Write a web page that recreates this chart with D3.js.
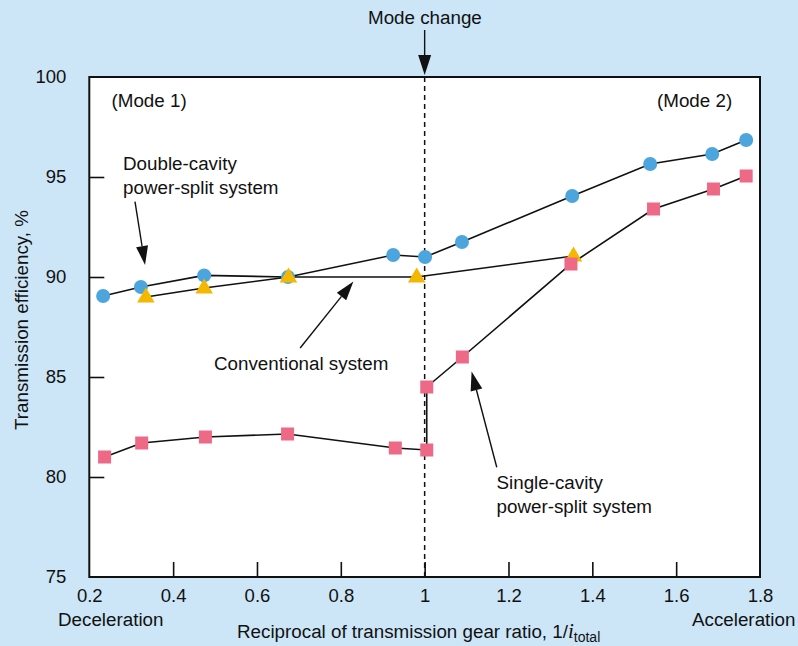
<!DOCTYPE html>
<html>
<head>
<meta charset="utf-8">
<script src="https://cdn.jsdelivr.net/npm/d3@7"></script>
<style>
  html, body { margin: 0; padding: 0; background: #cce6f7; }
  svg { display: block; }
  text { font-family: "Liberation Sans", Arial, Helvetica, sans-serif; fill: #111; }
</style>
</head>
<body>
<svg id="chart" width="798" height="646"></svg>
<script>
// Double-cavity power-split system
const doubleX = [0.233, 0.323, 0.474, 0.674, 0.925, 1.001, 1.089, 1.352, 1.538, 1.686, 1.767];
const doubleY = [89.05, 89.5, 90.08, 90.0, 91.1, 91.0, 91.75, 94.05, 95.65, 96.15, 96.85];

// Conventional system
const convX = [0.335, 0.474, 0.675, 0.981, 1.355];
const convY = [89.0, 89.45, 90.0, 90.0, 91.05];

// Single-cavity power-split system
const singleX = [0.2365, 0.325, 0.477, 0.673, 0.930, 1.005, 1.005, 1.090, 1.349, 1.546, 1.689, 1.767];
const singleY = [81.0, 81.7, 82.0, 82.15, 81.45, 81.35, 84.5, 86.0, 90.65, 93.4, 94.4, 95.05];

const xTicks = [0.2, 0.4, 0.6, 0.8, 1.0, 1.2, 1.4, 1.6, 1.8];
const xTickLabels = ["0.2", "0.4", "0.6", "0.8", "1", "1.2", "1.4", "1.6", "1.8"];
const yTicks = [75, 80, 85, 90, 95, 100];
const modeChangeX = 1.0;

const svg = d3.select("#chart");
const margin = { left: 89.3, top: 77, right: 38, bottom: 69 };
const W = 798, H = 646;
const iw = W - margin.left - margin.right;
const ih = H - margin.top - margin.bottom;
const FS = 18.8;

const x = d3.scaleLinear().domain([0.2, 1.8]).range([0, iw]);
const y = d3.scaleLinear().domain([75, 100]).range([ih, 0]);

const g = svg.append("g").attr("transform", `translate(${margin.left},${margin.top})`);

// plot area
g.append("rect").attr("width", iw).attr("height", ih).attr("fill", "#fff");

// axes (ticks point inward)
const xAxis = d3.axisBottom(x).tickValues(xTicks).tickSize(-15).tickPadding(12)
  .tickFormat((d, i) => xTickLabels[i]);
const yAxis = d3.axisLeft(y).tickValues(yTicks).tickSize(-15).tickPadding(23);

const gx = g.append("g").attr("transform", `translate(0,${ih})`).call(xAxis);
const gy = g.append("g").call(yAxis);
[gx, gy].forEach(a => {
  a.select(".domain").remove();
  a.selectAll(".tick line").attr("stroke", "#111").attr("stroke-width", 1.6);
  a.selectAll(".tick text").attr("font-size", 18.5).attr("fill", "#111")
    .style("font-family", '"Liberation Sans", Arial, sans-serif');
});
gy.selectAll(".tick").filter(d => d === 75 || d === 100).select("line").remove();
gx.selectAll(".tick").filter(d => d === 0.2 || d === 1.8).select("line").remove();

// frame
g.append("rect").attr("width", iw).attr("height", ih)
  .attr("fill", "none").attr("stroke", "#111").attr("stroke-width", 2);

// mode change dashed line
g.append("line")
  .attr("x1", x(modeChangeX)).attr("x2", x(modeChangeX))
  .attr("y1", 0).attr("y2", ih)
  .attr("stroke", "#111").attr("stroke-width", 1.5).attr("stroke-dasharray", "5,4");

const line = d3.line().x(d => x(d[0])).y(d => y(d[1]));
const zip = (a, b) => a.map((v, i) => [v, b[i]]);
const dbl = zip(doubleX, doubleY), conv = zip(convX, convY), sgl = zip(singleX, singleY);

[dbl, conv, sgl].forEach(pts => {
  g.append("path").datum(pts).attr("d", line)
    .attr("fill", "none").attr("stroke", "#111").attr("stroke-width", 1.6);
});

// markers
g.selectAll("circle.dbl").data(dbl).join("circle").attr("class", "dbl")
  .attr("cx", d => x(d[0])).attr("cy", d => y(d[1])).attr("r", 7)
  .attr("fill", "#4da5de");

const tri = "M0,-9.5L8.8,5.5L-8.8,5.5Z";
g.selectAll("path.conv").data(conv).join("path").attr("class", "conv")
  .attr("d", tri).attr("transform", d => `translate(${x(d[0])},${y(d[1])})`)
  .attr("fill", "#f4b800");

g.selectAll("rect.sgl").data(sgl).join("rect").attr("class", "sgl")
  .attr("x", d => x(d[0]) - 6.5).attr("y", d => y(d[1]) - 6.5)
  .attr("width", 13).attr("height", 13).attr("fill", "#ee6985");

// annotation arrows
function arrow(sel, x1, y1, x2, y2, len, hw) {
  const dx = x2 - x1, dy = y2 - y1, L = Math.hypot(dx, dy);
  const ux = dx / L, uy = dy / L;
  const bx = x2 - ux * len, by = y2 - uy * len;
  sel.append("line").attr("x1", x1).attr("y1", y1).attr("x2", bx).attr("y2", by)
    .attr("stroke", "#111").attr("stroke-width", 1.4);
  sel.append("path")
    .attr("d", `M${x2},${y2}L${bx - uy * hw},${by + ux * hw}L${bx + uy * hw},${by - ux * hw}Z`)
    .attr("fill", "#111");
}
arrow(g, x(0.309), y(93.77), x(0.333), y(90.6), 19, 6);
arrow(g, x(0.703), y(86.45), x(0.830), y(89.77), 19, 6);
arrow(g, x(1.172), y(80.49), x(1.112), y(85.27), 19, 6);
// mode-change arrow above the plot
arrow(svg, margin.left + x(modeChangeX), 30, margin.left + x(modeChangeX), 75, 20, 6.5);

// annotation text
const ann = [
  { t: "(Mode 1)", px: 111.5, py: 107 },
  { t: "(Mode 2)", px: 657, py: 107 },
  { t: "Double-cavity", px: 123, py: 170 },
  { t: "power-split system", px: 123, py: 194 },
  { t: "Conventional system", px: 214, py: 370 },
  { t: "Single-cavity", px: 496.5, py: 489 },
  { t: "power-split system", px: 496.5, py: 513 },
  { t: "Mode change", px: 368, py: 24 },
  { t: "Deceleration", px: 58, py: 626 },
  { t: "Acceleration", px: 692, py: 626 }
];
svg.selectAll("text.ann").data(ann).join("text").attr("class", "ann")
  .attr("x", d => d.px).attr("y", d => d.py).attr("font-size", FS).text(d => d.t);

// axis titles
const xt = svg.append("text").attr("x", margin.left + iw / 2 - 6).attr("y", 638)
  .attr("text-anchor", "middle").attr("font-size", FS);
xt.append("tspan").text("Reciprocal of transmission gear ratio, 1/");
xt.append("tspan").attr("font-style", "italic").attr("font-family", '"Liberation Serif", "Times New Roman", serif').attr("font-size", 21).text("i");
xt.append("tspan").attr("font-size", 14).attr("dy", 4).text("total");

svg.append("text").attr("transform", `translate(28,320) rotate(-90)`)
  .attr("text-anchor", "middle").attr("font-size", FS).text("Transmission efficiency, %");
</script>
</body>
</html>
